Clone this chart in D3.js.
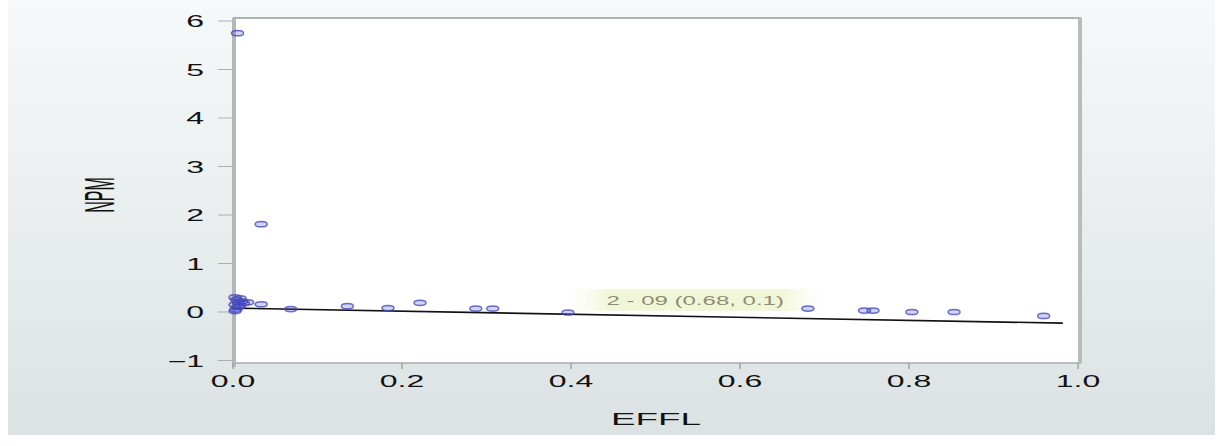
<!DOCTYPE html>
<html>
<head>
<meta charset="utf-8">
<script src="https://cdn.jsdelivr.net/npm/d3@7"></script>
<style>
  html, body { margin: 0; padding: 0; background: #ffffff; }
  svg { display: block; }
  .tick-label { font-family: "Liberation Sans", Arial, sans-serif; font-size: 16px; fill: #111111; }
</style>
</head>
<body>
<div id="chart"></div>
<script>
/************************** DATA ****************************/

// EFFL / NPM pairs
var effl = [0.003, 0.031, 0.000, 0.002, 0.004, 0.000, 0.003, 0.001, 0.006, 0.008,
            0.010, 0.005, 0.000, 0.015, 0.031, 0.066, 0.133, 0.181, 0.219, 0.285,
            0.305, 0.394, 0.678, 0.745, 0.755, 0.801, 0.851, 0.957];
var npm  = [5.75, 1.81, 0.30, 0.25, 0.20, 0.15, 0.10, 0.05, 0.28, 0.22,
            0.18, 0.12, 0.02, 0.20, 0.16, 0.06, 0.12, 0.08, 0.19, 0.07,
            0.07, -0.01, 0.07, 0.03, 0.03, 0.00, 0.00, -0.08];

// fitted line ends
var fitEffl = [0, 0.982];
var fitNpm = [0.08, -0.23];

var xTicks = [0, 0.2, 0.4, 0.6, 0.8, 1.0];
var yTicks = [-1, 0, 1, 2, 3, 4, 5, 6];

var noteText = "2 - 09 (0.68, 0.1)";

/************************** RENDER **************************/

var width = 1223, height = 446;

var svg = d3.select("#chart").append("svg")
    .attr("width", width)
    .attr("height", height);

var defs = svg.append("defs");
var bg = defs.append("linearGradient")
    .attr("id", "bg").attr("x1", 0).attr("y1", 0).attr("x2", 0).attr("y2", 1);
bg.append("stop").attr("offset", "0%").attr("stop-color", "#f6f9f9");
bg.append("stop").attr("offset", "100%").attr("stop-color", "#dce2e3");

var noteBg = defs.append("linearGradient")
    .attr("id", "noteBg").attr("x1", 0).attr("y1", 0).attr("x2", 1).attr("y2", 0);
noteBg.append("stop").attr("offset", "0%").attr("stop-color", "#fbfcf0").attr("stop-opacity", 0.3);
noteBg.append("stop").attr("offset", "15%").attr("stop-color", "#f2f6d8");
noteBg.append("stop").attr("offset", "85%").attr("stop-color", "#f2f6d8");
noteBg.append("stop").attr("offset", "100%").attr("stop-color", "#fbfcf0").attr("stop-opacity", 0.3);

svg.append("rect")
    .attr("x", 8).attr("y", 0)
    .attr("width", 1207).attr("height", 435)
    .style("fill", "url(#bg)");

var x = d3.scaleLinear().domain([0, 1]).range([233, 1078]);
var y = d3.scaleLinear().domain([-1, 6]).range([360.5, 21]);

var plotTop = 18, plotBottom = 363;

// plot area
svg.append("rect")
    .attr("x", x(0)).attr("y", plotTop)
    .attr("width", x(1) - x(0)).attr("height", plotBottom - plotTop)
    .style("fill", "#ffffff");

// frame
svg.append("line")
    .attr("x1", x(0)).attr("x2", x(1) + 3).attr("y1", plotTop).attr("y2", plotTop)
    .style("stroke", "#aeb2b2").style("stroke-width", 2);
svg.append("line")
    .attr("x1", x(0)).attr("x2", x(1) + 3).attr("y1", plotBottom).attr("y2", plotBottom)
    .style("stroke", "#a6abab").style("stroke-width", 1.5);
svg.append("line")
    .attr("x1", x(0) + 1).attr("x2", x(0) + 1).attr("y1", plotTop).attr("y2", plotBottom + 4)
    .style("stroke", "#b4b8b8").style("stroke-width", 4);
svg.append("line")
    .attr("x1", x(1) + 2).attr("x2", x(1) + 2).attr("y1", plotTop).attr("y2", plotBottom)
    .style("stroke", "#b7bbbb").style("stroke-width", 4);

// y axis ticks + labels
svg.selectAll(".yTick")
    .data(yTicks)
    .enter().append("line")
      .attr("class", "yTick")
      .attr("x1", 218).attr("x2", x(0))
      .attr("y1", function(d) { return y(d); })
      .attr("y2", function(d) { return y(d); })
      .style("stroke", "#aab0b0").style("stroke-width", 1);

svg.selectAll(".yLabel")
    .data(yTicks)
    .enter().append("text")
      .attr("class", "yLabel tick-label")
      .attr("text-anchor", "end")
      .attr("transform", function(d) { return "translate(204," + (y(d) + 6) + ") scale(2,1)"; })
      .text(function(d) { return d < 0 ? "\u2212" + Math.abs(d) : d; });

// x axis ticks + labels
svg.selectAll(".xTick")
    .data(xTicks)
    .enter().append("line")
      .attr("class", "xTick")
      .attr("x1", function(d) { return x(d); })
      .attr("x2", function(d) { return x(d); })
      .attr("y1", plotBottom).attr("y2", plotBottom + 6)
      .style("stroke", "#9ea3a3").style("stroke-width", 1.5);

svg.selectAll(".xLabel")
    .data(xTicks)
    .enter().append("text")
      .attr("class", "xLabel tick-label")
      .attr("text-anchor", "middle")
      .attr("transform", function(d) { return "translate(" + x(d) + ",387) scale(2,1)"; })
      .text(function(d) { return d3.format(".1f")(d); });

// axis titles
svg.append("text")
    .attr("class", "tick-label")
    .attr("text-anchor", "middle")
    .attr("transform", "translate(656,425) scale(2.3,1)")
    .text("EFFL");

svg.append("text")
    .attr("class", "tick-label")
    .attr("text-anchor", "middle")
    .attr("transform", "translate(114,195) scale(2.7,1) rotate(-90)")
    .text("NPM");

// note label
var noteX = x(0.547), noteY = y(0.25);
svg.append("rect")
    .attr("x", noteX - 122).attr("y", noteY - 11)
    .attr("width", 244).attr("height", 22)
    .style("fill", "url(#noteBg)");
svg.append("text")
    .attr("text-anchor", "middle")
    .attr("transform", "translate(" + noteX + "," + (noteY + 5) + ") scale(2,1)")
    .style("font-family", "Liberation Sans, Arial, sans-serif")
    .style("font-size", "12px")
    .style("fill", "#8c8c74")
    .text(noteText);

// fitted line
svg.append("line")
    .attr("x1", x(fitEffl[0])).attr("y1", y(fitNpm[0]))
    .attr("x2", x(fitEffl[1])).attr("y2", y(fitNpm[1]))
    .style("stroke", "#111111").style("stroke-width", 1.6);

// points
var pts = d3.range(effl.length).map(function(i) { return { x: effl[i], y: npm[i] }; });

svg.selectAll(".pt")
    .data(pts)
    .enter().append("ellipse")
      .attr("class", "pt")
      .attr("cx", function(d) { return x(d.x) + 2; })
      .attr("cy", function(d) { return y(d.y); })
      .attr("rx", 6).attr("ry", 2.6)
      .style("fill", "#2a3ae0").style("fill-opacity", 0.22)
      .style("stroke", "#4a4ab8").style("stroke-width", 1.5)
      .style("stroke-opacity", 0.8);
</script>
</body>
</html>
